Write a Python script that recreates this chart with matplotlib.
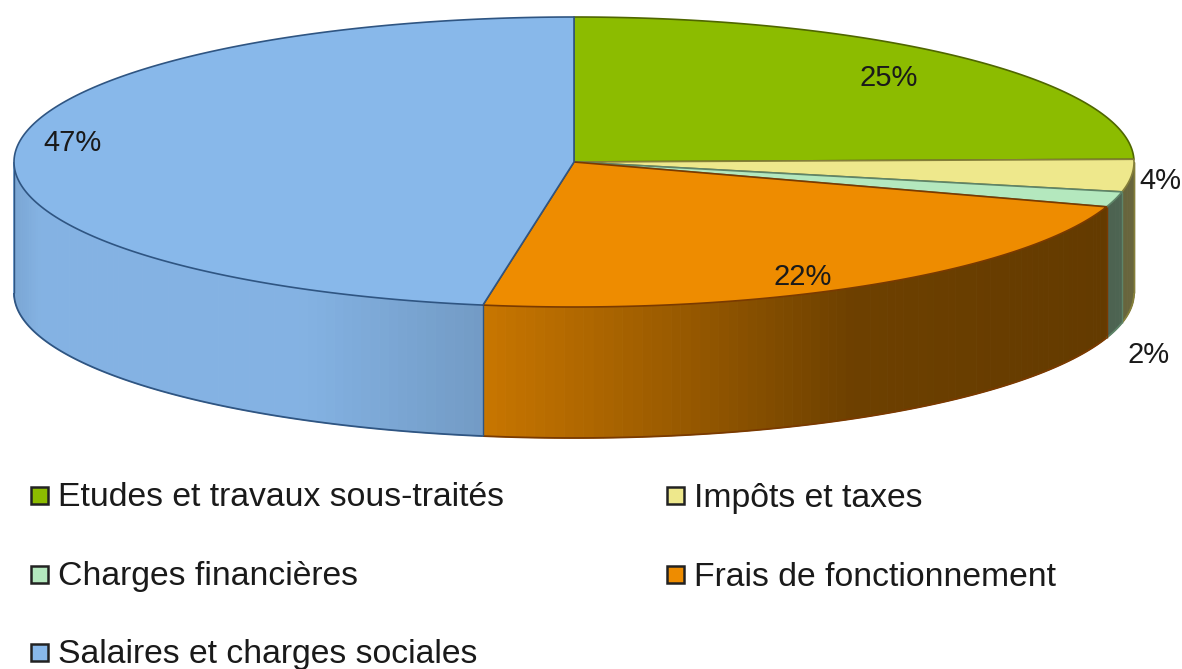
import matplotlib
matplotlib.use("Agg")
import matplotlib.pyplot as plt
from matplotlib.patches import Polygon, Rectangle
import numpy as np

plt.rcParams['font.family'] = ['Liberation Sans', 'DejaVu Sans']

# Data (share of each slice, clockwise from the top)
categories = ["Etudes et travaux sous-traités", "Impôts et taxes", "Charges financières",
              "Frais de fonctionnement", "Salaires et charges sociales"]
shares = [24.7, 3.6, 1.7, 22.6, 47.4]
pct_labels = ["25%", "4%", "2%", "22%", "47%"]

colors = ['#8CBC00', '#EEE88C', '#B4E8BE', '#EE8C00', '#88B8EA']
edges = ['#4F6600', '#857F3A', '#5E8468', '#7A3A00', '#2F5582']

label_pos = [(889, 78), (1160, 181), (1149, 355), (803, 277), (73, 143)]
legend_pos = [(31, 495), (667, 495), (31, 574), (667, 574), (31, 652)]

# Pie geometry in pixels
cx, cy, rx, ry, depth = 574, 162, 560, 145, 131


def ell(a):
    a = np.radians(a)
    return cx + rx * np.sin(a), cy - ry * np.cos(a)


def shade(x):
    return np.interp(x, [13, 40, 300, 484, 700, 850, 1100, 1134],
                     [0.90, 0.97, 0.97, 0.84, 0.62, 0.46, 0.42, 0.44])


fig = plt.figure(figsize=(11.82, 6.69), dpi=100)
ax = fig.add_axes([0, 0, 1, 1])
ax.set_xlim(0, 1182)
ax.set_ylim(669, 0)
ax.axis('off')

bounds = np.concatenate([[0], np.cumsum(shares)]) * 3.6

# Side wall, front half only, in small shaded steps
for i in range(len(shares)):
    a0, a1 = max(bounds[i], 90), min(bounds[i + 1], 270)
    if a1 <= a0:
        continue
    steps = np.arange(a0, a1, 1.0)
    steps = np.append(steps, a1)
    base = np.array(matplotlib.colors.to_rgb(colors[i]))
    for s0, s1 in zip(steps[:-1], steps[1:]):
        x0, y0 = ell(s0)
        x1, y1 = ell(s1)
        c = base * shade((x0 + x1) / 2)
        ax.add_patch(Polygon([(x0, y0), (x1, y1), (x1, y1 + depth), (x0, y0 + depth)],
                             facecolor=c, edgecolor=c, lw=0.7, zorder=1))
    t = np.linspace(a0, a1, 100)
    x, y = ell(t)
    ax.plot(x, y + depth, color=edges[i], lw=1.3, zorder=2, solid_capstyle='butt')
    xe, ye = ell(a0)
    ax.plot([xe, xe], [ye, ye + depth], color=edges[i], lw=1.0, zorder=2, solid_capstyle='butt')

# closing verticals at both ends of the wall
for a, c in [(90, edges[1]), (270, edges[4])]:
    xe, ye = ell(a)
    ax.plot([xe, xe], [ye, ye + depth], color=c, lw=1.0, zorder=2, solid_capstyle='butt')

# Top faces
for i in range(len(shares)):
    t = np.linspace(bounds[i], bounds[i + 1], 200)
    x, y = ell(t)
    pts = np.column_stack([np.r_[cx, x], np.r_[cy, y]])
    ax.add_patch(Polygon(pts, closed=True, facecolor=colors[i], edgecolor=edges[i],
                         lw=1.2, zorder=3, joinstyle='round'))

for lab, (lx, ly) in zip(pct_labels, label_pos):
    ax.text(lx, ly, lab, fontsize=21, color='#1a1a1a', ha='center', va='center', zorder=5)

# Legend
for cat, col, (lx, ly) in zip(categories, colors, legend_pos):
    ax.add_patch(Rectangle((lx, ly - 8), 17, 17, facecolor=col, edgecolor='#222222', lw=1.8, zorder=4))
    ax.text(lx + 27, ly + 3, cat, fontsize=24.3, color='#1a1a1a', ha='left', va='center', zorder=5)

plt.savefig("out.png", dpi=100)
